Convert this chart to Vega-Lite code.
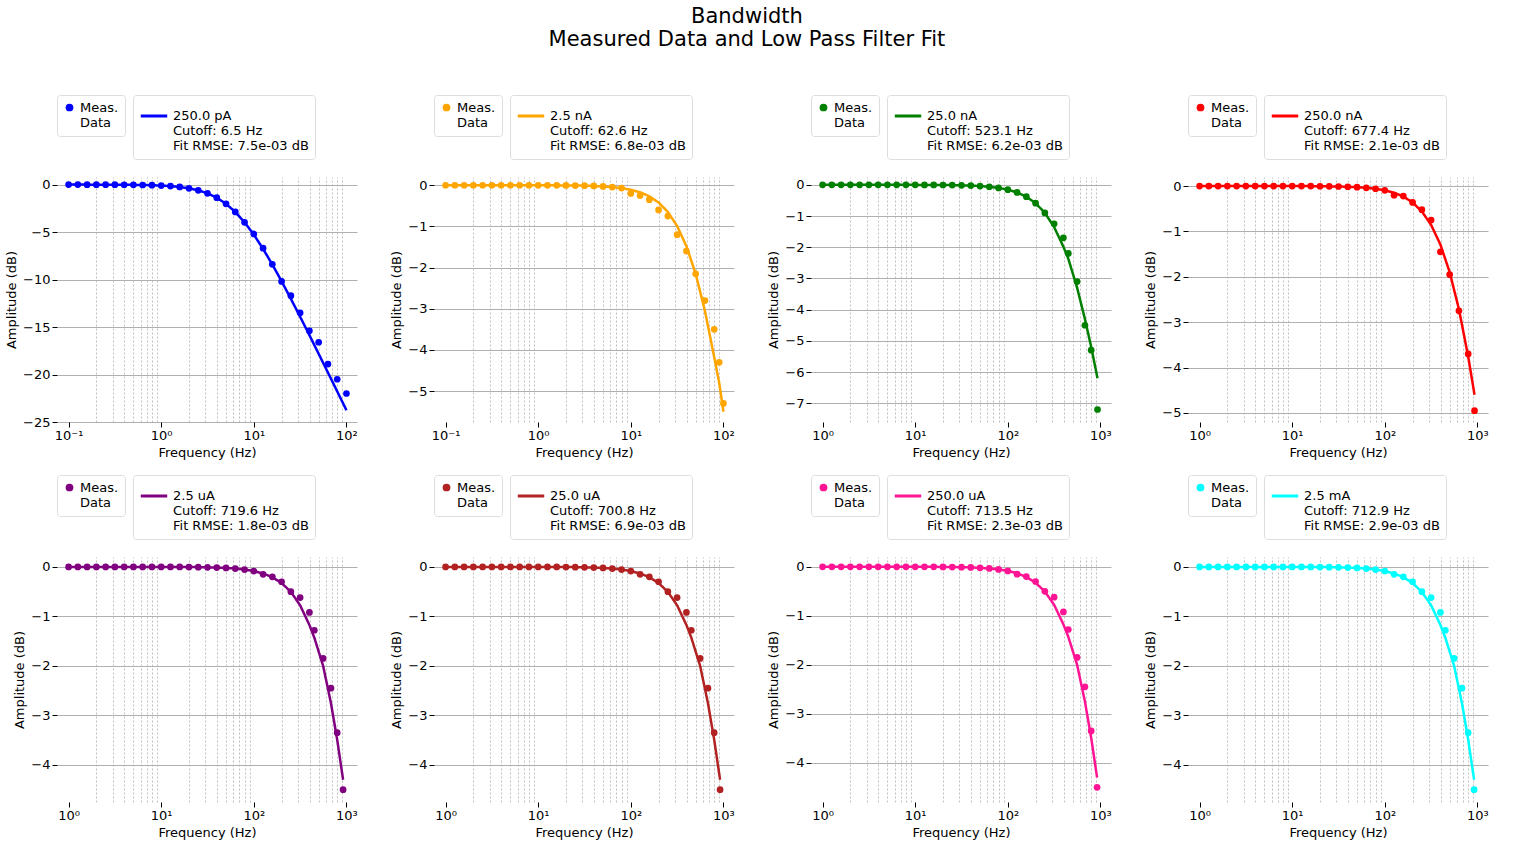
{
"$schema": "https://vega.github.io/schema/vega-lite/v6.json",
"title": {"text": ["Bandwidth", "Measured Data and Low Pass Filter Fit"], "fontSize": 21, "fontWeight": "normal", "anchor": "middle", "offset": 45},
"config": {
  "font": "DejaVu Sans",
  "view": {"stroke": null},
  "axis": {"labelFontSize": 13, "titleFontSize": 13, "titleFontWeight": "normal", "gridColor": "#b0b0b0", "domain": false, "tickColor": "#000", "labelColor": "#000", "titleColor": "#000", "labelOverlap": false},
  "axisX": {"tickCount": 40},
  "axisY": {"tickCount": 12, "labelExpr": "replace(format(datum.value, 'd'), '-', '−')"},
  "legend": {"labelFontSize": 13, "labelLimit": 300, "strokeColor": "#ddd", "padding": 6, "cornerRadius": 3, "direction": "horizontal"}
},
"datasets": {
  "d1": [
    {"f":0.1,"m":0,"y":0},{"f":0.1259,"m":-0.002,"y":-0.002},{"f":0.1585,"m":-0.003,"y":-0.003},{"f":0.1995,"m":-0.004,"y":-0.004},{"f":0.2512,"m":-0.006,"y":-0.006},{"f":0.3162,"m":-0.01,"y":-0.01},{"f":0.3981,"m":-0.016,"y":-0.016},{"f":0.5012,"m":-0.026,"y":-0.026},{"f":0.631,"m":-0.041,"y":-0.041},{"f":0.7943,"m":-0.064,"y":-0.064},
    {"f":1,"m":-0.1,"y":-0.1},{"f":1.259,"m":-0.16,"y":-0.16},{"f":1.585,"m":-0.25,"y":-0.25},{"f":1.995,"m":-0.39,"y":-0.39},{"f":2.512,"m":-0.6,"y":-0.6},{"f":3.162,"m":-0.92,"y":-0.92},{"f":3.981,"m":-1.38,"y":-1.38},{"f":5.012,"m":-2.03,"y":-2.03},{"f":6.31,"m":-2.88,"y":-2.88},{"f":7.943,"m":-3.97,"y":-3.97},
    {"f":10,"m":-5.2,"y":-5.27},{"f":12.59,"m":-6.7,"y":-6.77},{"f":15.85,"m":-8.4,"y":-8.42},{"f":19.95,"m":-10.2,"y":-10.18},{"f":25.12,"m":-11.7,"y":-12.03},{"f":31.62,"m":-13.5,"y":-13.92},{"f":39.81,"m":-15.4,"y":-15.85},{"f":50.12,"m":-16.6,"y":-17.82},{"f":63.1,"m":-18.9,"y":-19.79},{"f":79.43,"m":-20.5,"y":-21.77},{"f":100,"m":-22.0,"y":-23.76}
  ],
  "d2": [
    {"f":0.1,"m":0,"y":0},{"f":0.1259,"m":0,"y":0},{"f":0.1585,"m":0,"y":0},{"f":0.1995,"m":0,"y":0},{"f":0.2512,"m":0,"y":0},{"f":0.3162,"m":0,"y":0},{"f":0.3981,"m":0,"y":0},{"f":0.5012,"m":0,"y":0},{"f":0.631,"m":0,"y":0},{"f":0.7943,"m":0,"y":0},
    {"f":1,"m":-0.001,"y":-0.001},{"f":1.259,"m":-0.002,"y":-0.002},{"f":1.585,"m":-0.003,"y":-0.003},{"f":1.995,"m":-0.004,"y":-0.004},{"f":2.512,"m":-0.007,"y":-0.007},{"f":3.162,"m":-0.011,"y":-0.011},{"f":3.981,"m":-0.018,"y":-0.018},{"f":5.012,"m":-0.028,"y":-0.028},{"f":6.31,"m":-0.044,"y":-0.044},{"f":7.943,"m":-0.07,"y":-0.07},
    {"f":10,"m":-0.2,"y":-0.11},{"f":12.59,"m":-0.25,"y":-0.17},{"f":15.85,"m":-0.35,"y":-0.27},{"f":19.95,"m":-0.6,"y":-0.42},{"f":25.12,"m":-0.75,"y":-0.65},{"f":31.62,"m":-1.2,"y":-0.99},{"f":39.81,"m":-1.6,"y":-1.48},{"f":50.12,"m":-2.15,"y":-2.15},{"f":63.1,"m":-2.8,"y":-3.05},{"f":79.43,"m":-3.5,"y":-4.17},{"f":90,"m":-4.3,"y":-4.8},{"f":100,"m":-5.3,"y":-5.5}
  ],
  "d3": [
    {"f":1,"m":0,"y":0},{"f":1.259,"m":0,"y":0},{"f":1.585,"m":0,"y":0},{"f":1.995,"m":0,"y":0},{"f":2.512,"m":0,"y":0},{"f":3.162,"m":0,"y":0},{"f":3.981,"m":0,"y":0},{"f":5.012,"m":0,"y":0},{"f":6.31,"m":0,"y":0},{"f":7.943,"m":0,"y":0},
    {"f":10,"m":-0.002,"y":-0.002},{"f":12.59,"m":-0.003,"y":-0.003},{"f":15.85,"m":-0.004,"y":-0.004},{"f":19.95,"m":-0.006,"y":-0.006},{"f":25.12,"m":-0.01,"y":-0.01},{"f":31.62,"m":-0.016,"y":-0.016},{"f":39.81,"m":-0.025,"y":-0.025},{"f":50.12,"m":-0.04,"y":-0.04},{"f":63.1,"m":-0.063,"y":-0.063},{"f":79.43,"m":-0.099,"y":-0.099},
    {"f":100,"m":-0.156,"y":-0.156},{"f":125.9,"m":-0.245,"y":-0.245},{"f":158.5,"m":-0.381,"y":-0.381},{"f":199.5,"m":-0.59,"y":-0.59},{"f":251.2,"m":-0.901,"y":-0.901},{"f":316.2,"m":-1.25,"y":-1.353},{"f":398.1,"m":-1.7,"y":-1.984},{"f":450,"m":-2.2,"y":-2.37},{"f":560,"m":-3.1,"y":-3.3},{"f":680,"m":-4.5,"y":-4.3},{"f":794.3,"m":-5.3,"y":-5.193},{"f":930,"m":-7.2,"y":-6.2}
  ],
  "d4": [
    {"f":1,"m":0,"y":0},{"f":1.259,"m":0,"y":0},{"f":1.585,"m":0,"y":0},{"f":1.995,"m":0,"y":0},{"f":2.512,"m":0,"y":0},{"f":3.162,"m":0,"y":0},{"f":3.981,"m":0,"y":0},{"f":5.012,"m":0,"y":0},{"f":6.31,"m":0,"y":0},{"f":7.943,"m":0,"y":0},
    {"f":10,"m":0,"y":0},{"f":12.59,"m":0,"y":0},{"f":15.85,"m":0,"y":0},{"f":19.95,"m":-0.004,"y":-0.004},{"f":25.12,"m":-0.006,"y":-0.006},{"f":31.62,"m":-0.009,"y":-0.009},{"f":39.81,"m":-0.015,"y":-0.015},{"f":50.12,"m":-0.024,"y":-0.024},{"f":63.1,"m":-0.038,"y":-0.038},{"f":79.43,"m":-0.059,"y":-0.059},
    {"f":100,"m":-0.094,"y":-0.094},{"f":125.9,"m":-0.2,"y":-0.147},{"f":158.5,"m":-0.22,"y":-0.231},{"f":199.5,"m":-0.36,"y":-0.361},{"f":251.2,"m":-0.52,"y":-0.56},{"f":316.2,"m":-0.75,"y":-0.856},{"f":398.1,"m":-1.45,"y":-1.289},{"f":501.2,"m":-1.95,"y":-1.896},{"f":631,"m":-2.75,"y":-2.713},{"f":794.3,"m":-3.7,"y":-3.757},{"f":930,"m":-4.95,"y":-4.6}
  ],
  "d5": [
    {"f":1,"m":0,"y":0},{"f":1.259,"m":0,"y":0},{"f":1.585,"m":0,"y":0},{"f":1.995,"m":0,"y":0},{"f":2.512,"m":0,"y":0},{"f":3.162,"m":0,"y":0},{"f":3.981,"m":0,"y":0},{"f":5.012,"m":0,"y":0},{"f":6.31,"m":0,"y":0},{"f":7.943,"m":0,"y":0},
    {"f":10,"m":0,"y":0},{"f":12.59,"m":0,"y":0},{"f":15.85,"m":0,"y":0},{"f":19.95,"m":-0.003,"y":-0.003},{"f":25.12,"m":-0.005,"y":-0.005},{"f":31.62,"m":-0.008,"y":-0.008},{"f":39.81,"m":-0.013,"y":-0.013},{"f":50.12,"m":-0.021,"y":-0.021},{"f":63.1,"m":-0.034,"y":-0.034},{"f":79.43,"m":-0.053,"y":-0.053},
    {"f":100,"m":-0.084,"y":-0.084},{"f":125.9,"m":-0.15,"y":-0.133},{"f":158.5,"m":-0.2,"y":-0.208},{"f":199.5,"m":-0.3,"y":-0.326},{"f":251.2,"m":-0.5,"y":-0.505},{"f":316.2,"m":-0.62,"y":-0.776},{"f":398.1,"m":-0.92,"y":-1.173},{"f":450,"m":-1.28,"y":-1.43},{"f":560,"m":-1.85,"y":-2.0},{"f":680,"m":-2.45,"y":-2.75},{"f":794.3,"m":-3.35,"y":-3.49},{"f":920,"m":-4.5,"y":-4.3}
  ]
},
"columns": 4,
"spacing": {"column": 32, "row": 15},
"resolve": {"scale": {"x": "independent", "y": "independent", "opacity": "independent", "strokeDash": "independent"}},
"concat": [
  {"width": 300, "height": 245, "data": {"name": "d1"}, "resolve": {"axis": {"x": "independent"}},
   "layer": [
    {"mark": {"type": "point", "color": "blue", "filled": true, "size": 45},
     "encoding": {
      "x": {"field": "f", "type": "quantitative", "scale": {"type": "log", "domain": [0.075, 130], "nice": false}, "axis": {"orient": "top", "values": [0.2,0.3,0.4,0.5,0.6,0.7,0.8,0.9,2,3,4,5,6,7,8,9,20,30,40,50,60,70,80,90], "labels": false, "ticks": false, "title": null, "gridDash": [2, 2], "gridColor": "#c0c0c0"}},
      "y": {"field": "m", "type": "quantitative", "scale": {"domain": [-25, 0.8], "nice": false, "zero": false}, "axis": {"values": [-25,-20,-15,-10,-5,0], "title": "Amplitude (dB)"}},
      "opacity": {"datum": "Meas.|Data", "scale": {"range": [1]}, "legend": {"orient": "top", "title": null, "symbolType": "circle", "symbolSize": 60, "symbolFillColor": "blue", "symbolStrokeWidth": 0, "labelExpr": "split(datum.label, '|')"}}
     }},
    {"mark": {"type": "line", "color": "blue", "strokeWidth": 2.5},
     "encoding": {
      "x": {"field": "f", "type": "quantitative", "axis": {"orient": "bottom", "values": [0.1, 1, 10, 100], "title": "Frequency (Hz)", "labelExpr": "datum.value < 0.5 ? '10⁻¹' : datum.value < 5 ? '10⁰' : datum.value < 50 ? '10¹' : datum.value < 500 ? '10²' : '10³'"}},
      "y": {"field": "y", "type": "quantitative"},
      "strokeDash": {"datum": "250.0 pA|Cutoff: 6.5 Hz|Fit RMSE: 7.5e-03 dB", "scale": {"range": [[1, 0]]}, "legend": {"orient": "top", "title": null, "symbolType": "stroke", "symbolSize": 700, "symbolStrokeColor": "blue", "symbolStrokeWidth": 3, "labelExpr": "split(datum.label, '|')"}}
     }}
   ]},
  {"width": 300, "height": 245, "data": {"name": "d2"}, "resolve": {"axis": {"x": "independent"}},
   "layer": [
    {"mark": {"type": "point", "color": "orange", "filled": true, "size": 45},
     "encoding": {
      "x": {"field": "f", "type": "quantitative", "scale": {"type": "log", "domain": [0.075, 130], "nice": false}, "axis": {"orient": "top", "values": [0.2,0.3,0.4,0.5,0.6,0.7,0.8,0.9,2,3,4,5,6,7,8,9,20,30,40,50,60,70,80,90], "labels": false, "ticks": false, "title": null, "gridDash": [2, 2], "gridColor": "#c0c0c0"}},
      "y": {"field": "m", "type": "quantitative", "scale": {"domain": [-5.75, 0.2], "nice": false, "zero": false}, "axis": {"values": [-5,-4,-3,-2,-1,0], "title": "Amplitude (dB)"}},
      "opacity": {"datum": "Meas.|Data", "scale": {"range": [1]}, "legend": {"orient": "top", "title": null, "symbolType": "circle", "symbolSize": 60, "symbolFillColor": "orange", "symbolStrokeWidth": 0, "labelExpr": "split(datum.label, '|')"}}
     }},
    {"mark": {"type": "line", "color": "orange", "strokeWidth": 2.5},
     "encoding": {
      "x": {"field": "f", "type": "quantitative", "axis": {"orient": "bottom", "values": [0.1, 1, 10, 100], "title": "Frequency (Hz)", "labelExpr": "datum.value < 0.5 ? '10⁻¹' : datum.value < 5 ? '10⁰' : datum.value < 50 ? '10¹' : datum.value < 500 ? '10²' : '10³'"}},
      "y": {"field": "y", "type": "quantitative"},
      "strokeDash": {"datum": "2.5 nA|Cutoff: 62.6 Hz|Fit RMSE: 6.8e-03 dB", "scale": {"range": [[1, 0]]}, "legend": {"orient": "top", "title": null, "symbolType": "stroke", "symbolSize": 700, "symbolStrokeColor": "orange", "symbolStrokeWidth": 3, "labelExpr": "split(datum.label, '|')"}}
     }}
   ]},
  {"width": 300, "height": 245, "data": {"name": "d3"}, "resolve": {"axis": {"x": "independent"}},
   "layer": [
    {"mark": {"type": "point", "color": "green", "filled": true, "size": 45},
     "encoding": {
      "x": {"field": "f", "type": "quantitative", "scale": {"type": "log", "domain": [0.75, 1300], "nice": false}, "axis": {"orient": "top", "values": [2,3,4,5,6,7,8,9,20,30,40,50,60,70,80,90,200,300,400,500,600,700,800,900], "labels": false, "ticks": false, "title": null, "gridDash": [2, 2], "gridColor": "#c0c0c0"}},
      "y": {"field": "m", "type": "quantitative", "scale": {"domain": [-7.6, 0.25], "nice": false, "zero": false}, "axis": {"values": [-7,-6,-5,-4,-3,-2,-1,0], "title": "Amplitude (dB)"}},
      "opacity": {"datum": "Meas.|Data", "scale": {"range": [1]}, "legend": {"orient": "top", "title": null, "symbolType": "circle", "symbolSize": 60, "symbolFillColor": "green", "symbolStrokeWidth": 0, "labelExpr": "split(datum.label, '|')"}}
     }},
    {"mark": {"type": "line", "color": "green", "strokeWidth": 2.5},
     "encoding": {
      "x": {"field": "f", "type": "quantitative", "axis": {"orient": "bottom", "values": [1, 10, 100, 1000], "title": "Frequency (Hz)", "labelExpr": "datum.value < 0.5 ? '10⁻¹' : datum.value < 5 ? '10⁰' : datum.value < 50 ? '10¹' : datum.value < 500 ? '10²' : '10³'"}},
      "y": {"field": "y", "type": "quantitative"},
      "strokeDash": {"datum": "25.0 nA|Cutoff: 523.1 Hz|Fit RMSE: 6.2e-03 dB", "scale": {"range": [[1, 0]]}, "legend": {"orient": "top", "title": null, "symbolType": "stroke", "symbolSize": 700, "symbolStrokeColor": "green", "symbolStrokeWidth": 3, "labelExpr": "split(datum.label, '|')"}}
     }}
   ]},
  {"width": 300, "height": 245, "data": {"name": "d4"}, "resolve": {"axis": {"x": "independent"}},
   "layer": [
    {"mark": {"type": "point", "color": "red", "filled": true, "size": 45},
     "encoding": {
      "x": {"field": "f", "type": "quantitative", "scale": {"type": "log", "domain": [0.75, 1300], "nice": false}, "axis": {"orient": "top", "values": [2,3,4,5,6,7,8,9,20,30,40,50,60,70,80,90,200,300,400,500,600,700,800,900], "labels": false, "ticks": false, "title": null, "gridDash": [2, 2], "gridColor": "#c0c0c0"}},
      "y": {"field": "m", "type": "quantitative", "scale": {"domain": [-5.2, 0.2], "nice": false, "zero": false}, "axis": {"values": [-5,-4,-3,-2,-1,0], "title": "Amplitude (dB)"}},
      "opacity": {"datum": "Meas.|Data", "scale": {"range": [1]}, "legend": {"orient": "top", "title": null, "symbolType": "circle", "symbolSize": 60, "symbolFillColor": "red", "symbolStrokeWidth": 0, "labelExpr": "split(datum.label, '|')"}}
     }},
    {"mark": {"type": "line", "color": "red", "strokeWidth": 2.5},
     "encoding": {
      "x": {"field": "f", "type": "quantitative", "axis": {"orient": "bottom", "values": [1, 10, 100, 1000], "title": "Frequency (Hz)", "labelExpr": "datum.value < 0.5 ? '10⁻¹' : datum.value < 5 ? '10⁰' : datum.value < 50 ? '10¹' : datum.value < 500 ? '10²' : '10³'"}},
      "y": {"field": "y", "type": "quantitative"},
      "strokeDash": {"datum": "250.0 nA|Cutoff: 677.4 Hz|Fit RMSE: 2.1e-03 dB", "scale": {"range": [[1, 0]]}, "legend": {"orient": "top", "title": null, "symbolType": "stroke", "symbolSize": 700, "symbolStrokeColor": "red", "symbolStrokeWidth": 3, "labelExpr": "split(datum.label, '|')"}}
     }}
   ]},
  {"width": 300, "height": 245, "data": {"name": "d5"}, "resolve": {"axis": {"x": "independent"}},
   "layer": [
    {"mark": {"type": "point", "color": "purple", "filled": true, "size": 45},
     "encoding": {
      "x": {"field": "f", "type": "quantitative", "scale": {"type": "log", "domain": [0.75, 1300], "nice": false}, "axis": {"orient": "top", "values": [2,3,4,5,6,7,8,9,20,30,40,50,60,70,80,90,200,300,400,500,600,700,800,900], "labels": false, "ticks": false, "title": null, "gridDash": [2, 2], "gridColor": "#c0c0c0"}},
      "y": {"field": "m", "type": "quantitative", "scale": {"domain": [-4.75, 0.2], "nice": false, "zero": false}, "axis": {"values": [-4,-3,-2,-1,0], "title": "Amplitude (dB)"}},
      "opacity": {"datum": "Meas.|Data", "scale": {"range": [1]}, "legend": {"orient": "top", "title": null, "symbolType": "circle", "symbolSize": 60, "symbolFillColor": "purple", "symbolStrokeWidth": 0, "labelExpr": "split(datum.label, '|')"}}
     }},
    {"mark": {"type": "line", "color": "purple", "strokeWidth": 2.5},
     "encoding": {
      "x": {"field": "f", "type": "quantitative", "axis": {"orient": "bottom", "values": [1, 10, 100, 1000], "title": "Frequency (Hz)", "labelExpr": "datum.value < 0.5 ? '10⁻¹' : datum.value < 5 ? '10⁰' : datum.value < 50 ? '10¹' : datum.value < 500 ? '10²' : '10³'"}},
      "y": {"field": "y", "type": "quantitative"},
      "strokeDash": {"datum": "2.5 uA|Cutoff: 719.6 Hz|Fit RMSE: 1.8e-03 dB", "scale": {"range": [[1, 0]]}, "legend": {"orient": "top", "title": null, "symbolType": "stroke", "symbolSize": 700, "symbolStrokeColor": "purple", "symbolStrokeWidth": 3, "labelExpr": "split(datum.label, '|')"}}
     }}
   ]},
  {"width": 300, "height": 245, "data": {"name": "d5"}, "resolve": {"axis": {"x": "independent"}},
   "layer": [
    {"mark": {"type": "point", "color": "firebrick", "filled": true, "size": 45},
     "encoding": {
      "x": {"field": "f", "type": "quantitative", "scale": {"type": "log", "domain": [0.75, 1300], "nice": false}, "axis": {"orient": "top", "values": [2,3,4,5,6,7,8,9,20,30,40,50,60,70,80,90,200,300,400,500,600,700,800,900], "labels": false, "ticks": false, "title": null, "gridDash": [2, 2], "gridColor": "#c0c0c0"}},
      "y": {"field": "m", "type": "quantitative", "scale": {"domain": [-4.75, 0.2], "nice": false, "zero": false}, "axis": {"values": [-4,-3,-2,-1,0], "title": "Amplitude (dB)"}},
      "opacity": {"datum": "Meas.|Data", "scale": {"range": [1]}, "legend": {"orient": "top", "title": null, "symbolType": "circle", "symbolSize": 60, "symbolFillColor": "firebrick", "symbolStrokeWidth": 0, "labelExpr": "split(datum.label, '|')"}}
     }},
    {"mark": {"type": "line", "color": "firebrick", "strokeWidth": 2.5},
     "encoding": {
      "x": {"field": "f", "type": "quantitative", "axis": {"orient": "bottom", "values": [1, 10, 100, 1000], "title": "Frequency (Hz)", "labelExpr": "datum.value < 0.5 ? '10⁻¹' : datum.value < 5 ? '10⁰' : datum.value < 50 ? '10¹' : datum.value < 500 ? '10²' : '10³'"}},
      "y": {"field": "y", "type": "quantitative"},
      "strokeDash": {"datum": "25.0 uA|Cutoff: 700.8 Hz|Fit RMSE: 6.9e-03 dB", "scale": {"range": [[1, 0]]}, "legend": {"orient": "top", "title": null, "symbolType": "stroke", "symbolSize": 700, "symbolStrokeColor": "firebrick", "symbolStrokeWidth": 3, "labelExpr": "split(datum.label, '|')"}}
     }}
   ]},
  {"width": 300, "height": 245, "data": {"name": "d5"}, "resolve": {"axis": {"x": "independent"}},
   "layer": [
    {"mark": {"type": "point", "color": "deeppink", "filled": true, "size": 45},
     "encoding": {
      "x": {"field": "f", "type": "quantitative", "scale": {"type": "log", "domain": [0.75, 1300], "nice": false}, "axis": {"orient": "top", "values": [2,3,4,5,6,7,8,9,20,30,40,50,60,70,80,90,200,300,400,500,600,700,800,900], "labels": false, "ticks": false, "title": null, "gridDash": [2, 2], "gridColor": "#c0c0c0"}},
      "y": {"field": "m", "type": "quantitative", "scale": {"domain": [-4.8, 0.2], "nice": false, "zero": false}, "axis": {"values": [-4,-3,-2,-1,0], "title": "Amplitude (dB)"}},
      "opacity": {"datum": "Meas.|Data", "scale": {"range": [1]}, "legend": {"orient": "top", "title": null, "symbolType": "circle", "symbolSize": 60, "symbolFillColor": "deeppink", "symbolStrokeWidth": 0, "labelExpr": "split(datum.label, '|')"}}
     }},
    {"mark": {"type": "line", "color": "deeppink", "strokeWidth": 2.5},
     "encoding": {
      "x": {"field": "f", "type": "quantitative", "axis": {"orient": "bottom", "values": [1, 10, 100, 1000], "title": "Frequency (Hz)", "labelExpr": "datum.value < 0.5 ? '10⁻¹' : datum.value < 5 ? '10⁰' : datum.value < 50 ? '10¹' : datum.value < 500 ? '10²' : '10³'"}},
      "y": {"field": "y", "type": "quantitative"},
      "strokeDash": {"datum": "250.0 uA|Cutoff: 713.5 Hz|Fit RMSE: 2.3e-03 dB", "scale": {"range": [[1, 0]]}, "legend": {"orient": "top", "title": null, "symbolType": "stroke", "symbolSize": 700, "symbolStrokeColor": "deeppink", "symbolStrokeWidth": 3, "labelExpr": "split(datum.label, '|')"}}
     }}
   ]},
  {"width": 300, "height": 245, "data": {"name": "d5"}, "resolve": {"axis": {"x": "independent"}},
   "layer": [
    {"mark": {"type": "point", "color": "cyan", "filled": true, "size": 45},
     "encoding": {
      "x": {"field": "f", "type": "quantitative", "scale": {"type": "log", "domain": [0.75, 1300], "nice": false}, "axis": {"orient": "top", "values": [2,3,4,5,6,7,8,9,20,30,40,50,60,70,80,90,200,300,400,500,600,700,800,900], "labels": false, "ticks": false, "title": null, "gridDash": [2, 2], "gridColor": "#c0c0c0"}},
      "y": {"field": "m", "type": "quantitative", "scale": {"domain": [-4.75, 0.2], "nice": false, "zero": false}, "axis": {"values": [-4,-3,-2,-1,0], "title": "Amplitude (dB)"}},
      "opacity": {"datum": "Meas.|Data", "scale": {"range": [1]}, "legend": {"orient": "top", "title": null, "symbolType": "circle", "symbolSize": 60, "symbolFillColor": "cyan", "symbolStrokeWidth": 0, "labelExpr": "split(datum.label, '|')"}}
     }},
    {"mark": {"type": "line", "color": "cyan", "strokeWidth": 2.5},
     "encoding": {
      "x": {"field": "f", "type": "quantitative", "axis": {"orient": "bottom", "values": [1, 10, 100, 1000], "title": "Frequency (Hz)", "labelExpr": "datum.value < 0.5 ? '10⁻¹' : datum.value < 5 ? '10⁰' : datum.value < 50 ? '10¹' : datum.value < 500 ? '10²' : '10³'"}},
      "y": {"field": "y", "type": "quantitative"},
      "strokeDash": {"datum": "2.5 mA|Cutoff: 712.9 Hz|Fit RMSE: 2.9e-03 dB", "scale": {"range": [[1, 0]]}, "legend": {"orient": "top", "title": null, "symbolType": "stroke", "symbolSize": 700, "symbolStrokeColor": "cyan", "symbolStrokeWidth": 3, "labelExpr": "split(datum.label, '|')"}}
     }}
   ]}
]
}
